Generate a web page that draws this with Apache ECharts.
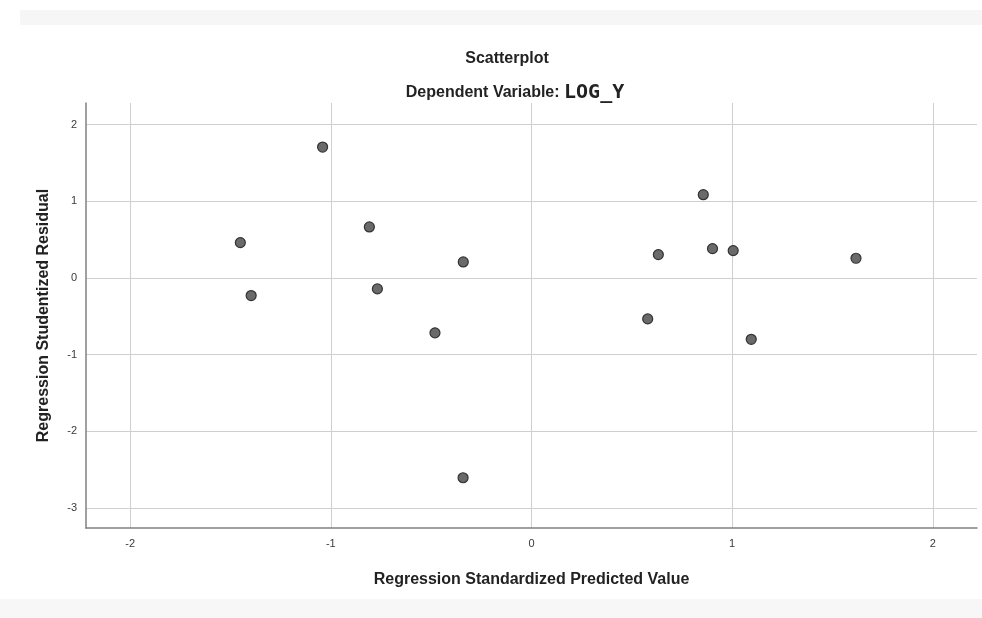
<!DOCTYPE html>
<html>
<head>
<meta charset="utf-8">
<script src="https://cdn.jsdelivr.net/npm/echarts@6/dist/echarts.min.js"></script>
<style>html,body{margin:0;padding:0;background:#fff;}#c{width:982px;height:618px;}</style>
</head>
<body>
<div id="c"></div>
<script>
const titleText = 'Scatterplot';
const subtitlePrefix = 'Dependent Variable: ';
const subtitleVar = 'LOG_Y';
const xAxisName = 'Regression Standardized Predicted Value';
const yAxisName = 'Regression Studentized Residual';
const xValues = [-1.451, -1.397, -1.041, -0.808, -0.768, -0.481, -0.340, -0.341, 0.579, 0.632, 0.856, 0.902, 1.005, 1.095, 1.617];
const yValues = [0.460, -0.230, 1.706, 0.664, -0.143, -0.716, 0.208, -2.605, -0.534, 0.304, 1.085, 0.382, 0.356, -0.800, 0.256];
const xRange = [-2.22, 2.22];
const yRange = [-3.26, 2.28];

const points = xValues.map((x, i) => [x, yValues[i]]);
const chart = echarts.init(document.getElementById('c'));
const font = '"Liberation Sans", Arial, sans-serif';
chart.setOption({
  backgroundColor: '#ffffff',
  animation: false,
  graphic: [
    {type: 'rect', shape: {x: 20, y: 10, width: 962, height: 15}, style: {fill: '#f6f6f6'}, z: -10},
    {type: 'rect', shape: {x: 0, y: 599, width: 982, height: 19}, style: {fill: '#f7f7f7'}, z: -10}
  ],
  title: [
    {text: titleText, left: 502, top: 46, textAlign: 'center',
     textStyle: {fontFamily: font, fontSize: 16, fontWeight: 'bold', color: '#222'}},
    {text: '{a|' + subtitlePrefix + '}{b|' + subtitleVar + '}', left: 510, top: 78, textAlign: 'center',
     textStyle: {rich: {
       a: {fontFamily: font, fontSize: 16, fontWeight: 'bold', color: '#222'},
       b: {fontFamily: '"DejaVu Sans Mono", monospace', fontSize: 20, color: '#222'}
     }}}
  ],
  grid: {left: 86, right: 5, top: 103, bottom: 90, containLabel: false},
  xAxis: {
    type: 'value', min: xRange[0], max: xRange[1], splitNumber: 5,
    name: xAxisName, nameLocation: 'middle', nameGap: 44,
    nameTextStyle: {fontFamily: font, fontSize: 16, fontWeight: 'bold', color: '#222'},
    axisLine: {show: true, onZero: false, lineStyle: {color: '#808080', width: 1.5}},
    axisTick: {show: false},
    axisLabel: {fontFamily: font, fontSize: 11, color: '#3a3a3a', margin: 10, showMinLabel: false, showMaxLabel: false},
    splitLine: {show: true, showMinLine: false, showMaxLine: false, lineStyle: {color: '#cfcfcf', width: 1}}
  },
  yAxis: {
    type: 'value', min: yRange[0], max: yRange[1], splitNumber: 5,
    name: yAxisName, nameLocation: 'middle', nameGap: 34,
    nameTextStyle: {fontFamily: font, fontSize: 16, fontWeight: 'bold', color: '#222'},
    axisLine: {show: true, onZero: false, lineStyle: {color: '#808080', width: 1.5}},
    axisTick: {show: false},
    axisLabel: {fontFamily: font, fontSize: 11, color: '#3a3a3a', margin: 9, showMinLabel: false, showMaxLabel: false},
    splitLine: {show: true, showMinLine: false, showMaxLine: false, lineStyle: {color: '#cfcfcf', width: 1}}
  },
  series: [{
    type: 'scatter',
    data: points,
    symbolSize: 10,
    itemStyle: {color: '#6a6a6a', borderColor: '#333333', borderWidth: 1.2, opacity: 1}
  }]
});
</script>
</body>
</html>
